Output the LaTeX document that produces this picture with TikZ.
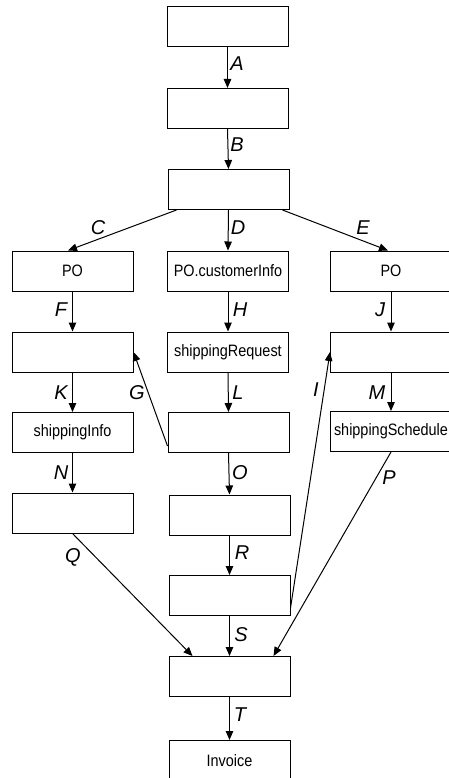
\documentclass[tikz,border=0pt]{standalone}
\usepackage{fontspec}
\setmainfont{Liberation Sans}
\newfontfamily\boxfont[FakeStretch=0.875]{Liberation Sans}
\usetikzlibrary{arrows.meta}
\tikzset{
  box/.style={draw, line width=1pt, minimum width=121pt, minimum height=40pt,
    inner sep=0pt, font=\boxfont\fontsize{16.5}{17}\selectfont},
  flow/.style={line width=1pt, -{Triangle[length=9pt,width=7.5pt]}},
  lab/.style={inner sep=0pt, font=\fontsize{20}{21}\selectfont\itshape}
}
\begin{document}
\begin{tikzpicture}[x=1pt,y=-1pt]
\useasboundingbox (0,0) rectangle (449,778);
\clip (0,0) rectangle (449,778);

% central spine
\node[box] (b1) at (227.5,27) {};
\node[box] (b2) at (227.5,108.5) {};
\node[box] (b3) at (228.5,189.5) {};

% three branches
\node[box] (l4) at (72.5,271) {PO};
\node[box] (m4) at (228,271) {PO.customerInfo};
\node[box] (r4) at (391,271) {PO};

\node[box] (l5) at (72.5,352) {};
\node[box] (m5) at (228,352) {shippingRequest};
\node[box] (r5) at (391,352) {};

\node[box] (l6) at (72.5,432.5) {shippingInfo};
\node[box] (m6) at (228.5,432.5) {};
\node[box] (r6) at (391,431.5) {shippingSchedule};

\node[box] (l7) at (72.5,513) {};
\node[box] (m7) at (229.5,515) {};

\node[box] (m8) at (229.5,595.5) {};
\node[box] (m9) at (229.5,676.5) {};
\node[box] (inv) at (229.5,760.5) {Invoice};

% connectors
\draw[flow] (b1.south) -- (b2.north);
\draw[flow] (b2.south) -- (b3.north);
\draw[flow] ([xshift=9pt]b3.south west) -- ([xshift=-4.5pt]l4.north);
\draw[flow] (b3.south) -- (m4.north);
\draw[flow] ([xshift=-7pt]b3.south east) -- ([xshift=-3pt]r4.north);

\draw[flow] (l4.south) -- (l5.north);
\draw[flow] (m4.south) -- (m5.north);
\draw[flow] (r4.south) -- (r5.north);

\draw[flow] (l5.south) -- (l6.north);
\draw[flow] (m5.south) -- (m6.north);
\draw[flow] (r5.south) -- (r6.north);

\draw[flow] ([yshift=7pt]m6.south west) -- (l5.east);
\draw[flow] ([yshift=8pt]m8.south east) -- (r5.west);

\draw[flow] (l6.south) -- (l7.north);
\draw[flow] (m6.south) -- (m7.north);
\draw[flow] (m7.south) -- (m8.north);
\draw[flow] (m8.south) -- (m9.north);
\draw[flow] (l7.south) -- ([xshift=24pt]m9.north west);
\draw[flow] (r6.south) -- ([xshift=-17pt]m9.north east);
\draw[flow] (m9.south) -- (inv.north);

% connector labels
\node[lab] (tA) at (237,64) {A};
\node[lab] (tB) at (237,145) {B};
\node[lab] (tC) at (98,228) {C};
\node[lab] (tD) at (238,228) {D};
\node[lab] (tE) at (363,228) {E};
\node[lab] (tF) at (61,310) {F};
\node[lab] (tH) at (240,310) {H};
\node[lab] (tJ) at (380,310) {J};
\node[lab] (tK) at (61,393) {K};
\node[lab] (tG) at (137,393) {G};
\node[lab] (tL) at (238,393) {L};
\node[lab] (tI) at (316,390) {I};
\node[lab] (tM) at (377,393) {M};
\node[lab] (tN) at (61,473) {N};
\node[lab] (tO) at (240,473) {O};
\node[lab] (tP) at (389,478) {P};
\node[lab] (tQ) at (73,557) {Q};
\node[lab] (tR) at (242,553) {R};
\node[lab] (tS) at (241,635) {S};
\node[lab] (tT) at (240,715) {T};
\end{tikzpicture}
\end{document}
